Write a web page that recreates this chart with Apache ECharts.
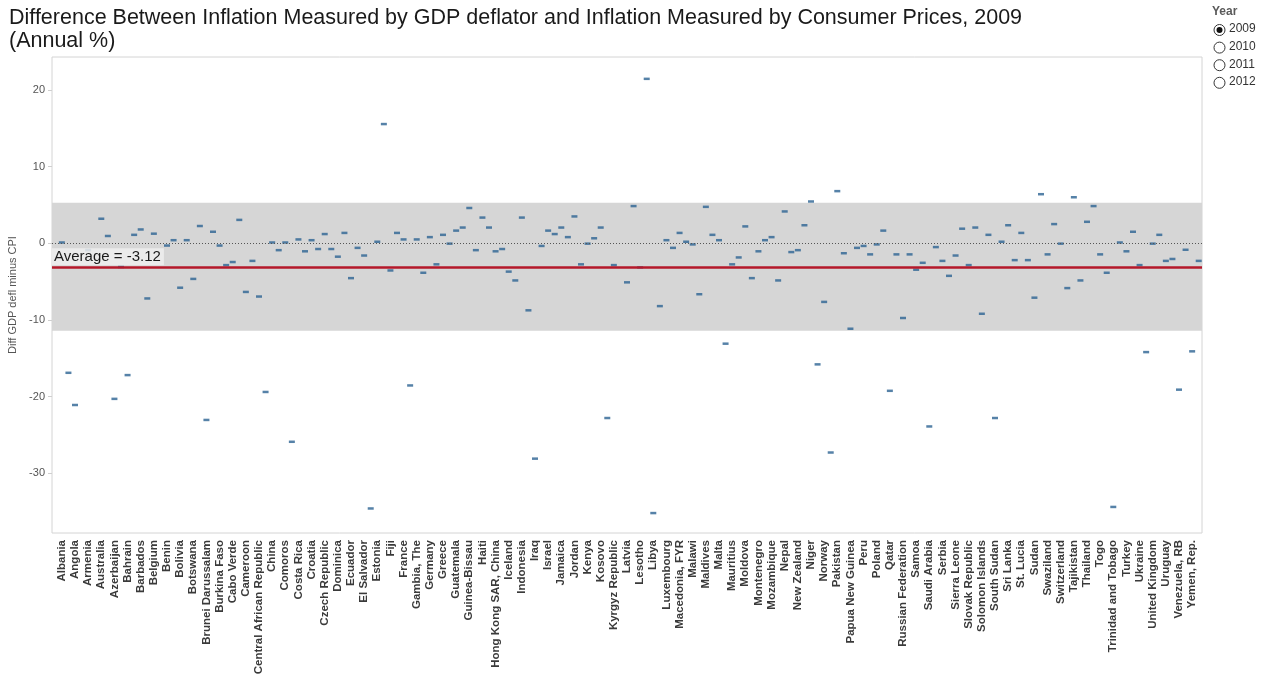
<!DOCTYPE html>
<html>
<head>
<meta charset="utf-8">
<title>GDP deflator vs CPI inflation, 2009</title>
<script src="https://cdn.jsdelivr.net/npm/echarts@6/dist/echarts.min.js"></script>
<style>
  html, body { margin: 0; padding: 0; background: #fff; }
  #chart { width: 1273px; height: 675px; }
</style>
</head>
<body>
<div id="chart"></div>
<script>
(function () {

  'use strict';

  // countries in alphabetical order (every other one gets a label on the axis)
  var countries = [
    'Afghanistan', 'Albania', 'Algeria', 'Angola', 'Argentina', 'Armenia', 'Aruba', 'Australia',
    'Austria', 'Azerbaijan', 'Bahamas, The', 'Bahrain', 'Bangladesh', 'Barbados', 'Belarus', 'Belgium',
    'Belize', 'Benin', 'Bhutan', 'Bolivia', 'Bosnia and Herzegovina', 'Botswana', 'Brazil', 'Brunei Darussalam',
    'Bulgaria', 'Burkina Faso', 'Burundi', 'Cabo Verde', 'Cambodia', 'Cameroon', 'Canada', 'Central African Republic',
    'Chile', 'China', 'Colombia', 'Comoros', 'Congo, Rep.', 'Costa Rica', "Cote d'Ivoire", 'Croatia',
    'Cyprus', 'Czech Republic', 'Denmark', 'Dominica', 'Dominican Republic', 'Ecuador', 'Egypt, Arab Rep.', 'El Salvador',
    'Equatorial Guinea', 'Estonia', 'Ethiopia', 'Fiji', 'Finland', 'France', 'Gabon', 'Gambia, The',
    'Georgia', 'Germany', 'Ghana', 'Greece', 'Grenada', 'Guatemala', 'Guinea', 'Guinea-Bissau',
    'Guyana', 'Haiti', 'Honduras', 'Hong Kong SAR, China', 'Hungary', 'Iceland', 'India', 'Indonesia',
    'Iran, Islamic Rep.', 'Iraq', 'Ireland', 'Israel', 'Italy', 'Jamaica', 'Japan', 'Jordan',
    'Kazakhstan', 'Kenya', 'Korea, Rep.', 'Kosovo', 'Kuwait', 'Kyrgyz Republic', 'Lao PDR', 'Latvia',
    'Lebanon', 'Lesotho', 'Liberia', 'Libya', 'Lithuania', 'Luxembourg', 'Macao SAR, China', 'Macedonia, FYR',
    'Madagascar', 'Malawi', 'Malaysia', 'Maldives', 'Mali', 'Malta', 'Mauritania', 'Mauritius',
    'Mexico', 'Moldova', 'Mongolia', 'Montenegro', 'Morocco', 'Mozambique', 'Namibia', 'Nepal',
    'Netherlands', 'New Zealand', 'Nicaragua', 'Niger', 'Nigeria', 'Norway', 'Oman', 'Pakistan',
    'Panama', 'Papua New Guinea', 'Paraguay', 'Peru', 'Philippines', 'Poland', 'Portugal', 'Qatar',
    'Romania', 'Russian Federation', 'Rwanda', 'Samoa', 'Sao Tome and Principe', 'Saudi Arabia', 'Senegal', 'Serbia',
    'Seychelles', 'Sierra Leone', 'Singapore', 'Slovak Republic', 'Slovenia', 'Solomon Islands', 'South Africa', 'South Sudan',
    'Spain', 'Sri Lanka', 'St. Kitts and Nevis', 'St. Lucia', 'St. Vincent and the Grenadines', 'Sudan', 'Suriname', 'Swaziland',
    'Sweden', 'Switzerland', 'Syrian Arab Republic', 'Tajikistan', 'Tanzania', 'Thailand', 'Timor-Leste', 'Togo',
    'Tonga', 'Trinidad and Tobago', 'Tunisia', 'Turkey', 'Uganda', 'Ukraine', 'United Arab Emirates', 'United Kingdom',
    'United States', 'Uruguay', 'Vanuatu', 'Venezuela, RB', 'Vietnam', 'Yemen, Rep.', 'Zambia'
  ];

  // GDP deflator inflation minus CPI inflation, 2009 (annual %)
  var diffValues = [
    null, 0.1, -16.9, -21.1, null, -0.9, null, 3.2,
    0.95, -20.3, -3.1, -17.2, 1.1, 1.8, -7.2, 1.25,
    null, -0.3, 0.4, -5.8, 0.4, -4.65, 2.25, -23.05,
    1.5, -0.3, -2.85, -2.45, 3.05, -6.35, -2.3, -6.95,
    -19.4, 0.1, -0.9, 0.1, -25.9, 0.5, -1.05, 0.4,
    -0.75, 1.2, -0.75, -1.75, 1.35, -4.55, -0.6, -1.6,
    -34.6, 0.2, 15.55, -3.55, 1.35, 0.5, -18.55, 0.5,
    -3.85, 0.8, -2.75, 1.1, -0.05, 1.65, 2.05, 4.6,
    -0.9, 3.35, 2.05, -1.05, -0.75, -3.7, -4.85, 3.35,
    -8.75, -28.1, -0.35, 1.65, 1.2, 2.05, 0.8, 3.5,
    -2.75, -0.05, 0.65, 2.05, -22.8, -2.85, null, -5.1,
    4.85, -3.15, 21.45, -35.2, -8.2, 0.4, -0.6, 1.35,
    0.2, -0.15, -6.65, 4.75, 1.1, 0.4, -13.1, -2.75,
    -1.85, 2.2, -4.55, -1.05, 0.4, 0.8, -4.85, 4.15,
    -1.15, -0.9, 2.35, 5.45, -15.8, -7.65, -27.3, 6.8,
    -1.3, -11.15, -0.6, -0.35, -1.45, -0.15, 1.65, -19.25,
    -1.45, -9.75, -1.45, -3.45, -2.55, -23.9, -0.5, -2.3,
    -4.25, -1.6, 1.9, -2.85, 2.05, -9.2, 1.1, -22.8,
    0.2, 2.35, -2.2, 1.35, -2.2, -7.1, 6.4, -1.45,
    2.5, -0.05, -5.85, 6.0, -4.85, 2.8, 4.85, -1.45,
    -3.85, -34.4, 0.1, -1.05, 1.5, -2.85, -14.2, -0.05,
    1.1, -2.3, -2.05, -19.1, -0.85, -14.1, -2.3
  ];

  var average = -3.12;
  var stdUpper = 5.3;
  var stdLower = -11.42;
  var years = ['2009', '2010', '2011', '2012'];
  var selectedYear = '2009';

  var FONT = '"Liberation Sans", Arial, sans-serif';

  var chart = echarts.init(document.getElementById('chart'));

  // radio-button style year filter on the right
  var yearGraphics = [{
    type: 'text', left: 1212, top: 6,
    style: { text: 'Year', font: 'bold 12px ' + FONT, fill: '#5a5a5a' }
  }];
  years.forEach(function (y, i) {
    var cy = 30 + i * 17.6;
    yearGraphics.push({
      type: 'circle', shape: { cx: 1219.5, cy: cy, r: 5.5 },
      style: { fill: '#fff', stroke: '#333', lineWidth: 1 }
    });
    if (y === selectedYear) {
      yearGraphics.push({
        type: 'circle', shape: { cx: 1219.5, cy: cy, r: 3 },
        style: { fill: '#111' }
      });
    }
    yearGraphics.push({
      type: 'text', left: 1229, top: cy - 7,
      style: { text: y, font: '12px ' + FONT, fill: '#333' }
    });
  });

  var option = {
    animation: false,
    textStyle: { fontFamily: FONT },
    title: {
      text: 'Difference Between Inflation Measured by GDP deflator and Inflation Measured by Consumer Prices, 2009\n(Annual %)',
      left: 4,
      top: 2,
      textStyle: { fontSize: 21.5, fontWeight: 'normal', color: '#1a1a1a', lineHeight: 23, fontFamily: FONT }
    },
    grid: {
      left: 52, right: 71, top: 57, bottom: 142,
      outerBoundsMode: 'none',
      show: true, borderColor: '#d4d4d4', borderWidth: 1
    },
    xAxis: {
      type: 'category',
      data: countries,
      boundaryGap: true,
      axisLine: { show: false },
      axisTick: { show: true, alignWithLabel: true, interval: 0, length: 3, lineStyle: { color: '#d0d0d0' } },
      axisLabel: {
        rotate: 90,
        interval: function (index) { return index % 2 === 1; },
        fontSize: 11.5,
        fontWeight: 'bold',
        color: '#3a3a3a',
        margin: 7
      },
      splitLine: { show: false }
    },
    yAxis: {
      type: 'value',
      min: -37.8,
      max: 24.3,
      name: 'Diff GDP defl minus CPI',
      nameLocation: 'middle',
      nameRotate: 90,
      nameGap: 26,
      nameTextStyle: { fontSize: 11, color: '#555' },
      axisLine: { show: false },
      axisTick: { show: true, length: 4, lineStyle: { color: '#cfcfcf' } },
      axisLabel: { fontSize: 11, color: '#555', margin: 7, showMinLabel: false, showMaxLabel: false },
      splitLine: { show: false }
    },
    graphic: yearGraphics,
    series: [
      {
        name: 'band',
        type: 'scatter',
        data: [],
        z: 1,
        silent: true,
        markArea: {
          silent: true,
          itemStyle: { color: '#d6d6d6' },
          data: [[{ yAxis: stdLower }, { yAxis: stdUpper }]]
        }
      },
      {
        name: 'Diff GDP defl minus CPI',
        type: 'scatter',
        z: 2,
        symbol: 'rect',
        symbolSize: [6, 2.5],
        itemStyle: { color: '#2c6392' },
        data: diffValues
      },
      {
        name: 'reference',
        type: 'scatter',
        data: [],
        z: 3,
        silent: true,
        markLine: {
          silent: true,
          symbol: 'none',
          data: [
            {
              yAxis: 0,
              lineStyle: { color: '#555', type: [1, 2], width: 1 },
              label: { show: false }
            },
            {
              yAxis: average,
              lineStyle: { color: '#b5182a', type: 'solid', width: 2.5 },
              label: {
                show: true,
                position: 'insideStartTop',
                formatter: 'Average = ' + average,
                fontSize: 15,
                color: '#1a1a1a',
                backgroundColor: 'rgba(238,238,238,0.85)',
                padding: [1, 3, 1, 2],
                distance: [0, 2]
              }
            },
            {
              yAxis: stdUpper,
              lineStyle: { opacity: 0 },
              label: {
                show: true,
                position: 'insideStartTop',
                formatter: 'Standard Deviation',
                fontSize: 10.5,
                fontWeight: 'bold',
                color: '#222',
                backgroundColor: 'rgba(255,255,255,0.85)',
                padding: [1, 2],
                distance: [0, 2]
              }
            },
            {
              yAxis: stdLower,
              lineStyle: { opacity: 0 },
              label: {
                show: true,
                position: 'insideStartTop',
                formatter: 'Standard Deviation',
                fontSize: 10.5,
                fontWeight: 'bold',
                color: '#222',
                backgroundColor: 'rgba(240,240,240,0.85)',
                padding: [1, 2],
                distance: [0, 2]
              }
            }
          ]
        }
      }
    ]
  };

  chart.setOption(option);

})();
</script>
</body>
</html>
